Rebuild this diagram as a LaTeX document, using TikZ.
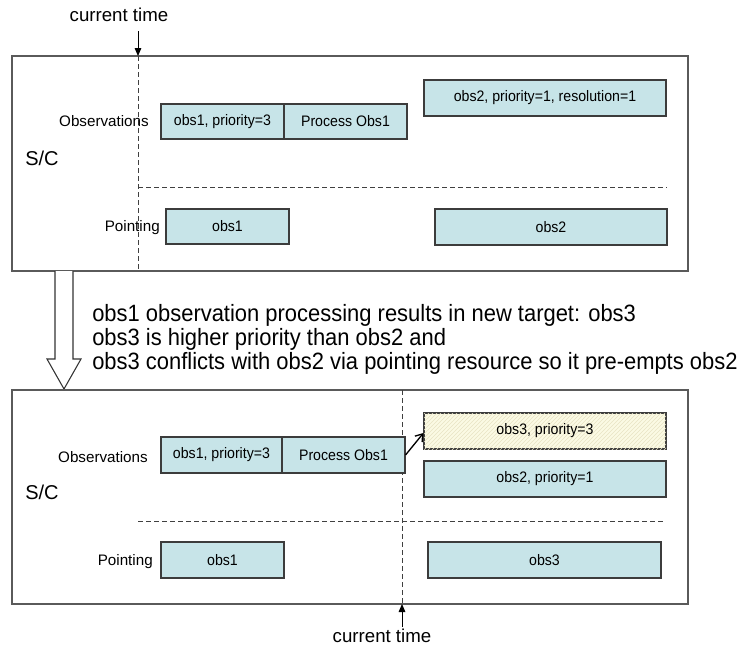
\documentclass[tikz,border=0pt]{standalone}
\usepackage{fontspec}
\setmainfont{Liberation Sans}
\newfontfamily\tallfont[FakeStretch=0.93]{Liberation Sans}
\usetikzlibrary{patterns,arrows.meta}
\definecolor{boxfill}{RGB}{199,228,232}
\definecolor{boxline}{RGB}{60,60,60}
\definecolor{frameline}{RGB}{90,90,90}
\definecolor{cream}{RGB}{251,250,228}
\definecolor{hatch}{RGB}{232,228,196}
\begin{document}
\begin{tikzpicture}[x=0.75pt,y=-0.75pt,
  frame/.style={draw=frameline,line width=0.9pt},
  tbox/.style={draw=boxline,fill=boxfill,line width=0.8pt,inner sep=0pt,
    font=\tallfont\fontsize{11.4pt}{13pt}\selectfont},
  ybox/.style={tbox,fill=cream,postaction={pattern=north east lines,pattern color=hatch}},
  lbl/.style={inner sep=0pt,font=\fontsize{11.4pt}{13pt}\selectfont},
  sclbl/.style={inner sep=0pt,font=\fontsize{15pt}{17pt}\selectfont},
  timelbl/.style={inner sep=0pt,font=\fontsize{14pt}{16pt}\selectfont},
  dline/.style={draw=black!75,dash pattern=on 3.4pt off 2.6pt,line width=0.75pt},
  tarrow/.style={-{Triangle[length=6pt,width=5pt]},line width=0.7pt},
]
\useasboundingbox (0,0) rectangle (743,646);

% ---------- top panel ----------
\draw[frame] (12,56) rectangle (688,271);
\coordinate (tvt) at (138,56);
\coordinate (tvb) at (138,271);
\coordinate (thl) at (138,187);
\coordinate (thr) at (667,187);
\draw[dline] (tvt) -- (tvb);
\draw[dline] (thl) -- (thr);

\node[tbox,minimum width=123*0.75pt,minimum height=35*0.75pt] (ta) at (222.5,121.5) {obs1, priority=3};
\node[tbox,minimum width=123*0.75pt,minimum height=35*0.75pt] (tb) at (345.5,121.5) {Process Obs1};
\node[tbox,minimum width=242*0.75pt,minimum height=36*0.75pt] (tc) at (545,98) {obs2, priority=1, resolution=1};
\node[tbox,minimum width=123*0.75pt,minimum height=35*0.75pt] (tp1) at (227.5,226.5) {obs1};
\node[tbox,minimum width=232*0.75pt,minimum height=36*0.75pt] (tp2) at (551,227) {obs2};

\node[lbl,anchor=east] (tobs) at (149,121) {Observations};
\node[lbl,anchor=east] (tpt) at (160,228) {Pointing};
\node[sclbl,anchor=west] (tsc) at (25,158) {S/C};

\node[timelbl] (ttime) at (119,15) {current time};
\coordinate (tarr) at (138,31);
\draw[tarrow] (tarr) -- (tvt);

% ---------- transition ----------
\node[inner sep=0pt,anchor=west,align=left,
  font=\tallfont\fontsize{17.7pt}{18pt}\selectfont] (msg) at (92,339)
  {obs1 observation processing results in new target: obs3\\
   obs3 is higher priority than obs2 and\\
   obs3 conflicts with obs2 via pointing resource so it pre-empts obs2};
\draw[line width=0.8pt,draw=black!80,fill=white]
  (55,271) -- (55,359) -- (47,359) -- (64,389) -- (81,359) -- (73,359) -- (73,271);

% ---------- bottom panel ----------
\draw[frame] (12,390) rectangle (688,604);
\coordinate (bvt) at (402,390);
\coordinate (bvb) at (402,604);
\coordinate (bhl) at (138,521);
\coordinate (bhr) at (665,521);
\draw[dline] (bvt) -- (bvb);
\draw[dline] (bhl) -- (bhr);

\node[tbox,minimum width=121*0.75pt,minimum height=36*0.75pt] (ba) at (221.5,455) {obs1, priority=3};
\node[tbox,minimum width=123*0.75pt,minimum height=36*0.75pt] (bb) at (343.5,455) {Process Obs1};
\node[ybox,minimum width=242*0.75pt,minimum height=36*0.75pt] (bc) at (545,431) {obs3, priority=3};
\node[tbox,minimum width=242*0.75pt,minimum height=36*0.75pt] (bd) at (545,479) {obs2, priority=1};
\node[tbox,minimum width=123*0.75pt,minimum height=36*0.75pt] (bp1) at (222.5,560) {obs1};
\node[tbox,minimum width=233*0.75pt,minimum height=36*0.75pt] (bp3) at (544.5,560) {obs3};

\node[lbl,anchor=east] (bobs) at (148,457) {Observations};
\node[lbl,anchor=east] (bpt) at (153,562) {Pointing};
\node[sclbl,anchor=west] (bsc) at (25,492) {S/C};

\draw[-{Straight Barb[length=5pt,width=7pt]},line width=1pt] (bb.east) -- ([yshift=-1.5pt]bc.west);

\node[timelbl] (btime) at (382,636) {current time};
\coordinate (barr) at (402,627);
\draw[tarrow] (barr) -- (bvb);
\end{tikzpicture}
\end{document}
